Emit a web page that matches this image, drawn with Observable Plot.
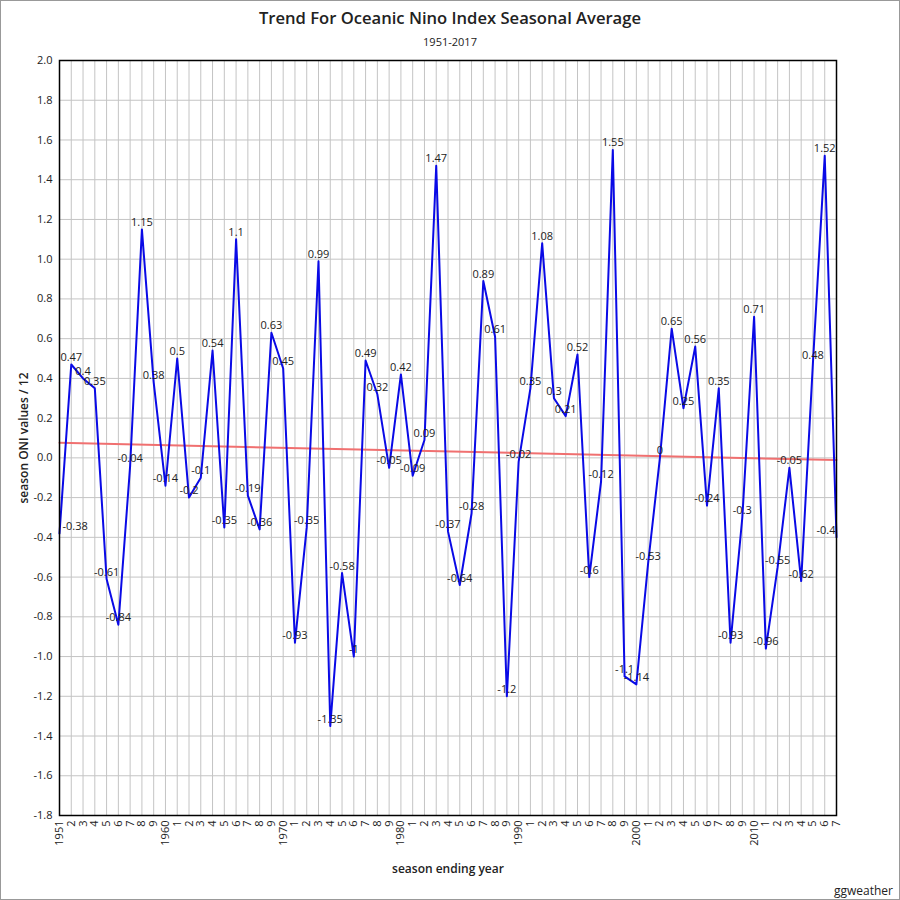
<!DOCTYPE html>
<html>
<head>
<meta charset="utf-8">
<script src="https://cdn.jsdelivr.net/npm/d3@7"></script>
<script src="https://cdn.jsdelivr.net/npm/@observablehq/plot@0.6"></script>
<style>
  html, body { margin: 0; padding: 0; background: #fff; }
  #frame { position: relative; width: 900px; height: 900px; box-sizing: border-box; border: 1px solid #999; font-family: "Open Sans", sans-serif; background: #fff; overflow: hidden; }
  #title { height: 30px; line-height: 34px; text-align: center; font-size: 16.6px; font-weight: 600; color: #222; }
  #subtitle { height: 21px; line-height: 22px; text-align: center; font-size: 11px; color: #222; }
  #chart svg { display: block; }
  g[aria-label="y-axis label"] text, g[aria-label="x-axis label"] text { font-weight: 600; font-size: 12px; fill: #222; }
  #credit { position: absolute; right: 6px; bottom: 0px; font-size: 12px; color: #222; }
</style>
</head>
<body>
<div id="frame">
  <div id="title">Trend For Oceanic Nino Index Seasonal Average</div>
  <div id="subtitle">1951-2017</div>
  <div id="chart"></div>
  <div id="credit">ggweather</div>
</div>
<script>
const years = d3.range(1951, 2018);
const oni = [
  -0.38, 0.47, 0.4, 0.35, -0.61, -0.84, -0.04, 1.15, 0.38, -0.14,
  0.5, -0.2, -0.1, 0.54, -0.35, 1.1, -0.19, -0.36, 0.63, 0.45,
  -0.93, -0.35, 0.99, -1.35, -0.58, -1, 0.49, 0.32, -0.05, 0.42,
  -0.09, 0.09, 1.47, -0.37, -0.64, -0.28, 0.89, 0.61, -1.2, -0.02,
  0.35, 1.08, 0.3, 0.21, 0.52, -0.6, -0.12, 1.55, -1.1, -1.14,
  -0.53, 0, 0.65, 0.25, 0.56, -0.24, 0.35, -0.93, -0.3, 0.71,
  -0.96, -0.55, -0.05, -0.62, 0.48, 1.52, -0.4
];
const yTicks = [-1.8, -1.6, -1.4, -1.2, -1.0, -0.8, -0.6, -0.4, -0.2, 0, 0.2, 0.4, 0.6, 0.8, 1.0, 1.2, 1.4, 1.6, 1.8, 2.0];
const xTickLabel = y => (y === 1951 || y % 10 === 0) ? String(y) : String(y % 10);

const data = years.map((year, i) => ({year, value: oni[i]}));
const first = data.slice(0, 1);
const last = data.slice(-1);
const middle = data.slice(1, -1);

const labelStyle = {x: "year", y: "value", text: d => String(d.value), fontSize: 11, fill: "#222", dy: -7};

const chart = Plot.plot({
  width: 898,
  height: 827,
  marginLeft: 58,
  marginRight: 63,
  marginTop: 8,
  marginBottom: 64,
  style: {fontFamily: "Open Sans, sans-serif", fontSize: "11px", color: "#222", background: "#fff"},
  x: {domain: [1951, 2017]},
  y: {domain: [-1.8, 2.0]},
  marks: [
    Plot.gridX(years, {stroke: "#c4c4c4", strokeOpacity: 1}),
    Plot.gridY(yTicks, {stroke: "#c4c4c4", strokeOpacity: 1}),
    Plot.axisY(yTicks, {tickSize: 0, tickPadding: 7, tickFormat: v => v.toFixed(1), label: "season ONI values / 12", labelArrow: "none", labelAnchor: "center", labelOffset: 40, fontSize: 11}),
    Plot.axisX(years, {tickSize: 0, tickPadding: 5, tickRotate: -90, tickFormat: xTickLabel, label: "season ending year", labelArrow: "none", labelAnchor: "center", labelOffset: 57, fontSize: 11}),
    Plot.linearRegressionY(data, {x: "year", y: "value", ci: 0, stroke: "#f07070", strokeWidth: 2}),
    Plot.line(data, {x: "year", y: "value", stroke: "#0a0ae6", strokeWidth: 2}),
    Plot.text(middle, {...labelStyle, textAnchor: "middle"}),
    Plot.text(first, {...labelStyle, textAnchor: "start", dx: 3}),
    Plot.text(last, {...labelStyle, textAnchor: "end", dx: -1}),
    Plot.frame({stroke: "#000", strokeWidth: 1.5})
  ]
});
document.getElementById("chart").appendChild(chart);
</script>
</body>
</html>
